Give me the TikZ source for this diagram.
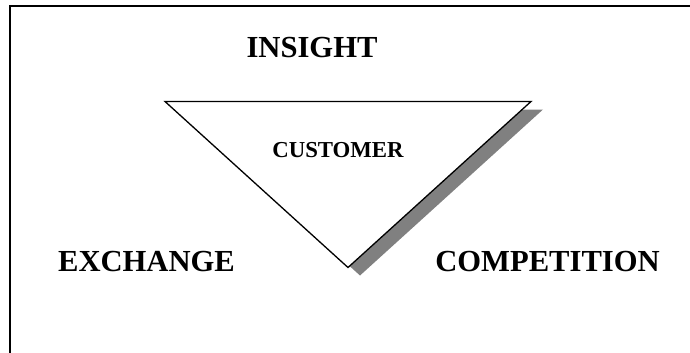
\documentclass[tikz,border=0pt]{standalone}
\usepackage{fontspec}
\setmainfont{Liberation Serif}
\begin{document}
\begin{tikzpicture}[x=1pt,y=-1pt,
  lbl/.style={font=\fontsize{30.6}{32}\selectfont\bfseries, anchor=base, inner sep=0pt},
  sublbl/.style={font=\fontsize{22.8}{24}\selectfont\bfseries, anchor=base, inner sep=0pt},
  shadow/.style={fill=black!50}]
\useasboundingbox (0,0) rectangle (690,353);
% frame
\coordinate (fA) at (9.5,353);
\coordinate (fB) at (9.5,6);
\coordinate (fC) at (690,6);
\draw[line width=2pt] (fA) -- (fB) -- (fC);
% triangle
\coordinate (tl) at (165,101.5);
\coordinate (tr) at (531,101.5);
\coordinate (tb) at (348,267.5);
\fill[shadow] ([shift={(12,8)}]tl) -- ([shift={(12,8)}]tr) -- ([shift={(12,8)}]tb) -- cycle;
\filldraw[fill=white, draw=black, line width=1.3pt, line join=miter] (tl) -- (tr) -- (tb) -- cycle;
% labels
\node[lbl] (insight) at (312,58) {INSIGHT};
\node[lbl] (exchange) at (146.5,271) {EXCHANGE};
\node[lbl] (competition) at (547.5,271) {COMPETITION};
\node[sublbl] (customer) at (338,157) {CUSTOMER};
\end{tikzpicture}
\end{document}
